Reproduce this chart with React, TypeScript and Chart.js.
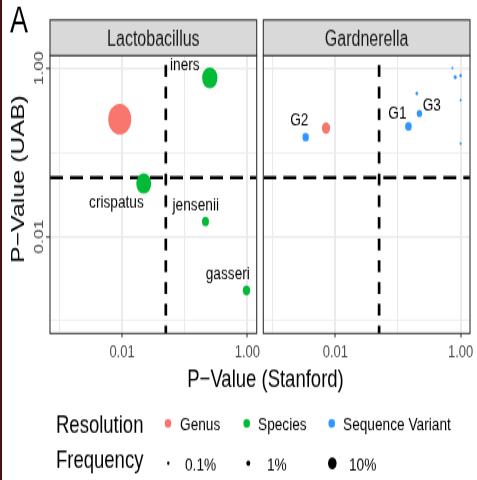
import { useEffect, useRef } from "react";
import { Chart, registerables } from "chart.js";

Chart.register(...registerables);
Chart.defaults.font.family = '"Liberation Sans", Arial, Helvetica, sans-serif';

// ---- data -------------------------------------------------------------
const PANELS = ["Lactobacillus", "Gardnerella"];
const RESOLUTIONS = ["Genus", "Species", "Sequence Variant"];

// Lactobacillus panel
const lactoTaxa = ["Lactobacillus", "iners", "crispatus", "jensenii", "gasseri"];
const lactoResolution = ["Genus", "Species", "Species", "Species", "Species"];
const lactoStanford = [0.0092, 0.252, 0.0222, 0.215, 0.97];
const lactoUAB = [0.248, 0.766, 0.0427, 0.0151, 0.0023];
const lactoFrequency = [0.96, 0.396, 0.373, 0.058, 0.067];
const lactoLabels = ["", "iners", "crispatus", "jensenii", "gasseri"];

// Gardnerella panel
const gardTaxa = ["Gardnerella", "G2", "G1", "G3", "SV5", "SV6", "SV7", "SV8", "SV9", "SV10"];
const gardResolution = [
  "Genus",
  "Sequence Variant",
  "Sequence Variant",
  "Sequence Variant",
  "Sequence Variant",
  "Sequence Variant",
  "Sequence Variant",
  "Sequence Variant",
  "Sequence Variant",
  "Sequence Variant",
];
const gardStanford = [0.0071, 0.00336, 0.147, 0.22, 0.2, 0.74, 0.82, 1.0, 1.0, 1.0];
const gardUAB = [0.194, 0.152, 0.203, 0.29, 0.5, 1.0, 0.78, 0.817, 0.418, 0.127];
const gardFrequency = [0.093, 0.045, 0.049, 0.028, 0.0014, 0.0001, 0.003, 0.0014, 0.0001, 0.0001];
const gardLabels = ["", "G2", "G1", "G3", "", "", "", "", "", ""];

// axis breaks (log10 scale)
const AXIS_TICKS = [0.001, 0.01, 0.1, 1];
const AXIS_TICK_TEXT = ["", "0.01", "", "1.00"];
const AXIS_MAJOR = [false, true, false, true];
const SIGNIFICANCE = 0.05;

const FREQ_BREAKS = [0.001, 0.01, 0.1];
const FREQ_TEXT = ["0.1%", "1%", "10%"];

// ---- styling ----------------------------------------------------------
const COLORS = ["#F8766D", "#00BA38", "#2F97FF"];
const H = 356; // drawing height; the canvas is shown at 480px tall
const W = 477;
const STRIP_TOP = 14.8;
const PANEL_TOP = 41.2;
const PANEL_BOTTOM = 247.3;
const LOG_MIN = Math.pow(10, -3.15);
const LOG_MAX = Math.pow(10, 0.15);
const FONT = '"Liberation Sans", Arial, Helvetica, sans-serif';

const radiusFor = (f: number) => 0.9 + 10.8 * Math.sqrt(f);

const LABEL_OFFSETS: Record<string, [number, number]> = {
  iners: [-25, -9.1],
  crispatus: [-27.3, 14.3],
  jensenii: [-9.7, -12.4],
  gasseri: [-18.7, -11.9],
  G2: [-6.4, -12.6],
  G1: [-11, -9.1],
  G3: [12.4, -5.6],
};

type Pt = { x: number; y: number; f: number; name: string; res: string };

function panelPoints(panel: number): Pt[] {
  const taxa = panel === 0 ? lactoTaxa : gardTaxa;
  const res = panel === 0 ? lactoResolution : gardResolution;
  const xs = panel === 0 ? lactoStanford : gardStanford;
  const ys = panel === 0 ? lactoUAB : gardUAB;
  const fs = panel === 0 ? lactoFrequency : gardFrequency;
  const labels = panel === 0 ? lactoLabels : gardLabels;
  return taxa.map((_, k) => ({ x: xs[k], y: ys[k], f: fs[k], name: labels[k], res: res[k] }));
}

function setTicks(scale: any) {
  scale.ticks = AXIS_TICKS.map((v) => ({ value: v }));
}

function text(
  ctx: CanvasRenderingContext2D,
  s: string,
  x: number,
  y: number,
  size: number,
  color: string,
  align: CanvasTextAlign = "left",
  baseline: CanvasTextBaseline = "alphabetic"
) {
  ctx.font = `${size}px ${FONT}`;
  ctx.fillStyle = color;
  ctx.textAlign = align;
  ctx.textBaseline = baseline;
  ctx.fillText(s, x, y);
}

const pointSize = (c: any) => (c && c.raw && typeof c.raw.f === "number" ? radiusFor(c.raw.f) : 3);

function makePlugin(panel: number) {
  return {
    id: "facetPanel" + panel,
    beforeDatasetsDraw(chart: any) {
      const { ctx, chartArea: a, scales } = chart;
      ctx.save();
      ctx.beginPath();
      ctx.rect(a.left, a.top, a.right - a.left, a.bottom - a.top);
      ctx.clip();
      ctx.strokeStyle = "#000000";
      // horizontal threshold
      const py = scales.y.getPixelForValue(SIGNIFICANCE);
      ctx.lineWidth = 2.45;
      ctx.setLineDash([13, 7]);
      ctx.lineDashOffset = 0;
      ctx.beginPath();
      ctx.moveTo(a.left, py);
      ctx.lineTo(a.right, py);
      ctx.stroke();
      // vertical threshold
      const px = scales.x.getPixelForValue(SIGNIFICANCE);
      ctx.lineWidth = 2.7;
      ctx.setLineDash([8.7, 7.4]);
      ctx.lineDashOffset = 9.1;
      ctx.beginPath();
      ctx.moveTo(px, a.top);
      ctx.lineTo(px, a.bottom);
      ctx.stroke();
      ctx.restore();
    },
    afterDatasetsDraw(chart: any) {
      const { ctx, chartArea: a, scales } = chart;
      ctx.save();
      // point labels
      panelPoints(panel).forEach((p) => {
        if (!p.name) return;
        const off = LABEL_OFFSETS[p.name] || [0, 0];
        const x = scales.x.getPixelForValue(p.x) + off[0];
        const y = scales.y.getPixelForValue(p.y) + off[1];
        text(ctx, p.name, x, y, 13.7, "#000000", "center", "middle");
      });
      // panel border
      ctx.strokeStyle = "#333333";
      ctx.lineWidth = 1.1;
      ctx.strokeRect(a.left, a.top, a.right - a.left, a.bottom - a.top);
      // strip
      ctx.fillStyle = "#D9D9D9";
      ctx.fillRect(a.left, STRIP_TOP, a.right - a.left, PANEL_TOP - STRIP_TOP);
      ctx.strokeRect(a.left, STRIP_TOP, a.right - a.left, PANEL_TOP - STRIP_TOP);
      text(ctx, PANELS[panel], (a.left + a.right) / 2, 33.6, 16, "#1A1A1A", "center");
      ctx.restore();
    },
    afterDraw(chart: any) {
      if (panel !== 0) return;
      const { ctx } = chart;
      ctx.save();
      // frame edge
      ctx.fillStyle = "#4C1010";
      ctx.fillRect(0, 0, 2, H);
      // tag
      text(ctx, "A", 10, 23.5, 27, "#000000");
      // axis titles
      text(ctx, "P\u2212Value (Stanford)", 265.5, 287, 18.5, "#000000", "center");
      ctx.save();
      ctx.translate(23.5, 132.8);
      ctx.rotate(-Math.PI / 2);
      text(ctx, "P\u2212Value (UAB)", 0, 0, 18.5, "#000000", "center");
      ctx.restore();
      // colour legend
      text(ctx, "Resolution", 56, 321.4, 18.5, "#000000");
      const resDotX = [168, 246.7, 331.7];
      const resTextX = [180, 258, 343];
      RESOLUTIONS.forEach((r, i) => {
        ctx.fillStyle = COLORS[i];
        ctx.beginPath();
        ctx.arc(resDotX[i], 314, 3.3, 0, Math.PI * 2);
        ctx.fill();
        text(ctx, r, resTextX[i], 318.5, 13.7, "#000000");
      });
      // size legend
      text(ctx, "Frequency", 56, 347.4, 18.5, "#000000");
      const sizeDotX = [168.3, 248.3, 332.3];
      const sizeTextX = [185, 267, 349];
      FREQ_BREAKS.forEach((f, i) => {
        ctx.fillStyle = "#000000";
        ctx.beginPath();
        ctx.arc(sizeDotX[i], 343.6, radiusFor(f), 0, Math.PI * 2);
        ctx.fill();
        text(ctx, FREQ_TEXT[i], sizeTextX[i], 348.5, 13.7, "#000000");
      });
      ctx.restore();
    },
  };
}

function buildConfig(panel: number): any {
  const isLeft = panel === 0;
  const pts = panelPoints(panel);
  const datasets = RESOLUTIONS.map((r, ri) => ({
    label: r,
    data: pts.filter((p) => p.res === r),
    backgroundColor: COLORS[ri],
    borderColor: COLORS[ri],
    borderWidth: 0,
    pointRadius: pointSize,
    pointHoverRadius: pointSize,
    clip: false,
  }));

  const gridColor = "#EBEBEB";
  return {
    type: "scatter",
    data: { datasets },
    plugins: [makePlugin(panel)],
    options: {
      responsive: false,
      animation: false,
      events: [],
      layout: {
        padding: {
          left: isLeft ? 0 : 263.3,
          right: isLeft ? 220.3 : 7,
          top: PANEL_TOP,
          bottom: 0,
        },
      },
      plugins: { legend: { display: false }, tooltip: { enabled: false } },
      scales: {
        x: {
          type: "logarithmic",
          min: LOG_MIN,
          max: LOG_MAX,
          afterBuildTicks: setTicks,
          afterFit: (s: any) => {
            s.height = H - PANEL_BOTTOM;
          },
          ticks: {
            autoSkip: false,
            maxRotation: 0,
            minRotation: 0,
            padding: 3.4,
            color: "#4D4D4D",
            font: { size: 13 },
            callback: (_v: any, i: number) => AXIS_TICK_TEXT[i],
          },
          grid: {
            color: gridColor,
            lineWidth: (c: any) => (AXIS_MAJOR[c.index] ? 2 : 1.1),
            drawTicks: true,
            tickLength: 3,
            tickWidth: 1.1,
            tickColor: (c: any) => (AXIS_MAJOR[c.index] ? "#333333" : "rgba(0,0,0,0)"),
          },
          border: { display: false },
        },
        y: {
          type: "logarithmic",
          position: "left",
          min: LOG_MIN,
          max: LOG_MAX,
          afterBuildTicks: setTicks,
          afterFit: (s: any) => {
            s.width = isLeft ? 50 : 0;
          },
          ticks: {
            display: isLeft,
            autoSkip: false,
            minRotation: 90,
            maxRotation: 90,
            crossAlign: "center",
            padding: -5.6,
            color: "#4D4D4D",
            font: { size: 13 },
            callback: (_v: any, i: number) => AXIS_TICK_TEXT[i],
          },
          grid: {
            color: gridColor,
            lineWidth: (c: any) => (AXIS_MAJOR[c.index] ? 1.6 : 0.85),
            drawTicks: isLeft,
            tickLength: isLeft ? 4 : 0,
            tickWidth: 1,
            tickColor: (c: any) => (AXIS_MAJOR[c.index] ? "#333333" : "rgba(0,0,0,0)"),
          },
          border: { display: false },
        },
      },
    },
  };
}

export default function App() {
  const leftRef = useRef<HTMLCanvasElement>(null);
  const rightRef = useRef<HTMLCanvasElement>(null);

  useEffect(() => {
    const charts = [leftRef, rightRef].map(
      (ref, i) => new Chart(ref.current as HTMLCanvasElement, buildConfig(i))
    );
    return () => charts.forEach((c) => c.destroy());
  }, []);

  const canvasStyle: any = { position: "absolute", left: 0, top: 0, width: "477px", height: "480px" };
  return (
    <div style={{ position: "absolute", left: 0, top: 0, width: 477, height: 480, background: "#FFFFFF" }}>
      <canvas ref={leftRef} width={W} height={H} style={canvasStyle} />
      <canvas ref={rightRef} width={W} height={H} style={canvasStyle} />
    </div>
  );
}
